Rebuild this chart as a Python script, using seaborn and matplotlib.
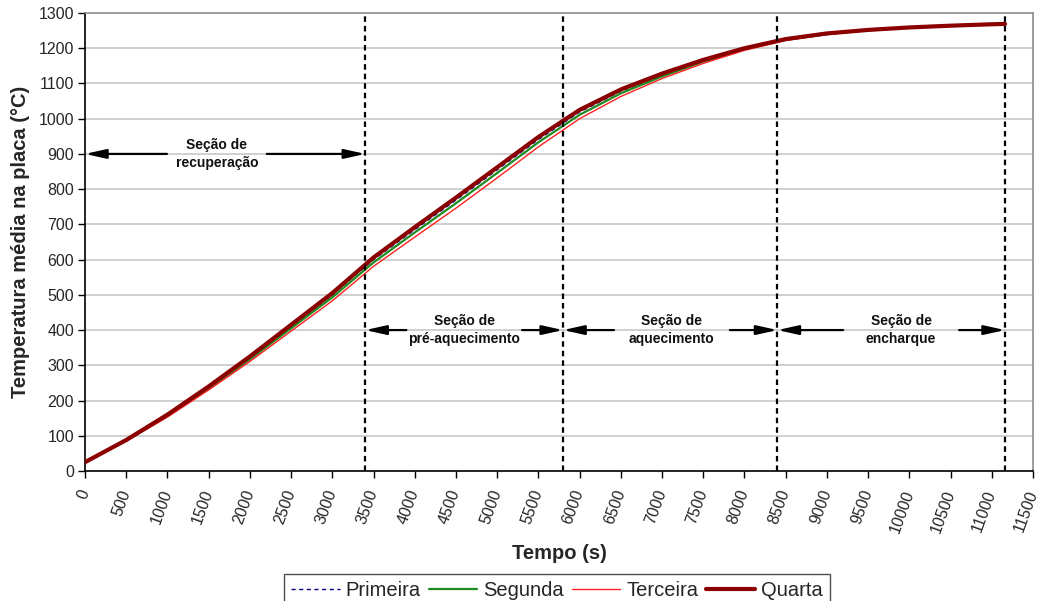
import numpy as np
import pandas as pd
import matplotlib
matplotlib.use('Agg')
import matplotlib.pyplot as plt
import seaborn as sns

# ---------------- data ----------------
tempo = [0, 500, 1000, 1500, 2000, 2500, 3000, 3500, 4000, 4500, 5000, 5500,
         6000, 6500, 7000, 7500, 8000, 8500, 9000, 9500, 10000, 10500, 11000, 11160]
primeira = [25, 87, 158, 237, 321, 410, 500, 600, 685, 769, 855, 941,
            1019, 1078, 1124, 1165, 1199, 1225, 1241, 1252, 1259, 1264, 1268, 1269]
segunda = [25, 86, 156, 234, 317, 405, 493, 592, 677, 760, 846, 933,
           1011, 1072, 1120, 1162, 1197, 1224, 1240, 1251, 1258, 1264, 1268, 1269]
terceira = [25, 85, 153, 230, 311, 397, 483, 581, 664, 746, 832, 920,
            1000, 1063, 1114, 1157, 1194, 1222, 1239, 1250, 1258, 1263, 1268, 1269]
quarta = [25, 88, 160, 240, 325, 415, 505, 606, 692, 776, 862, 948,
          1025, 1083, 1128, 1167, 1200, 1226, 1242, 1252, 1259, 1264, 1268, 1269]

series_names = ["Primeira", "Segunda", "Terceira", "Quarta"]

limites = [0, 3400, 5800, 8400, 11160]
secoes = ["Seção de\nrecuperação", "Seção de\npré-aquecimento",
          "Seção de\naquecimento", "Seção de\nencharque"]
secao_y = [900, 400, 400, 400]
secao_centro = [1600, 4600, 7120, 9900]
secao_meio_vao = [606, 702, 703, 703]

x_ticks = list(range(0, 11501, 500))
y_ticks = list(range(0, 1301, 100))

# ---------------- style ----------------
sns.set_theme(style="white")
plt.rcParams['font.family'] = ['Liberation Sans', 'DejaVu Sans']

fig = plt.figure(figsize=(10.39, 6.01), dpi=100)
ax = fig.add_axes([85 / 1039, 1 - 471 / 601, (1033 - 85) / 1039, (471 - 13) / 601])

df = pd.DataFrame({"Tempo": tempo, "Primeira": primeira, "Segunda": segunda,
                   "Terceira": terceira, "Quarta": quarta})

styles = {
    "Primeira": dict(color="#00008B", lw=1.0, ls=(0, (3, 2.5))),
    "Segunda": dict(color="#1E8B1E", lw=1.6, ls="-"),
    "Terceira": dict(color="#FF2020", lw=1.0, ls="-"),
    "Quarta": dict(color="#8B0000", lw=3.0, ls="-"),
}

# grid
for yv in y_ticks[1:-1]:
    ax.axhline(yv, color="#c8c8c8", lw=1.2, zorder=0)

for name in series_names:
    st = styles[name]
    sns.lineplot(data=df, x="Tempo", y=name, ax=ax, color=st["color"],
                 linewidth=st["lw"], linestyle=st["ls"], label=name, zorder=3)

# vertical section boundaries
for xv in limites[1:]:
    ax.axvline(xv, color="black", lw=1.6, ls=(0, (2.5, 1.8)), zorder=4)

# section annotations
for i, txt in enumerate(secoes):
    x0, x1 = limites[i], limites[i + 1]
    c = secao_centro[i]
    h = secao_meio_vao[i]
    yv = secao_y[i]
    ap = dict(arrowstyle="-|>,head_length=0.9,head_width=0.2", color="black",
              lw=1.6, shrinkA=0, shrinkB=0, mutation_scale=14)
    ax.annotate("", xy=(x0, yv), xytext=(c - h, yv), arrowprops=ap, zorder=5)
    ax.annotate("", xy=(x1, yv), xytext=(c + h, yv), arrowprops=ap, zorder=5)
    ax.text(c, yv, txt, ha="center", va="center", fontsize=10, fontweight="bold",
            linespacing=1.35, color="#111111", zorder=5)

ax.set_xlim(0, 11500)
ax.set_ylim(0, 1300)
ax.set_xticks(x_ticks)
ax.set_yticks(y_ticks)
ax.set_xticklabels([str(t) for t in x_ticks], rotation=70, ha="right", va="center",
                   rotation_mode="anchor", fontsize=11.5)
ax.set_yticklabels([str(t) for t in y_ticks], fontsize=11.5)
ax.tick_params(axis="x", direction="out", length=5, width=1, color="black", pad=9)
ax.tick_params(axis="y", direction="out", length=5, width=1, color="black", pad=3)
ax.tick_params(bottom=True, left=True)

for side in ["left", "bottom"]:
    ax.spines[side].set_color("black")
    ax.spines[side].set_linewidth(1.2)
for side in ["top", "right"]:
    ax.spines[side].set_color("#8c8c8c")
    ax.spines[side].set_linewidth(1.2)

ax.set_xlabel("Tempo (s)", fontsize=14.5, fontweight="bold")
ax.set_ylabel("Temperatura média na placa (°C)", fontsize=14.5, fontweight="bold", labelpad=6)
ax.xaxis.set_label_coords(0.5, -0.16)

handles, labels = ax.get_legend_handles_labels()
if ax.legend_ is not None:
    ax.legend_.remove()
leg = fig.legend(handles, labels, loc="upper center", ncol=4,
                 bbox_to_anchor=(557 / 1039, 1 - 574 / 601), fontsize=14.5,
                 frameon=True, fancybox=False, edgecolor="#222222",
                 handlelength=2.4, handletextpad=0.3, columnspacing=0.4,
                 borderpad=0.35, borderaxespad=0)
leg.get_frame().set_linewidth(1.0)

fig.savefig("out.png", dpi=100)
